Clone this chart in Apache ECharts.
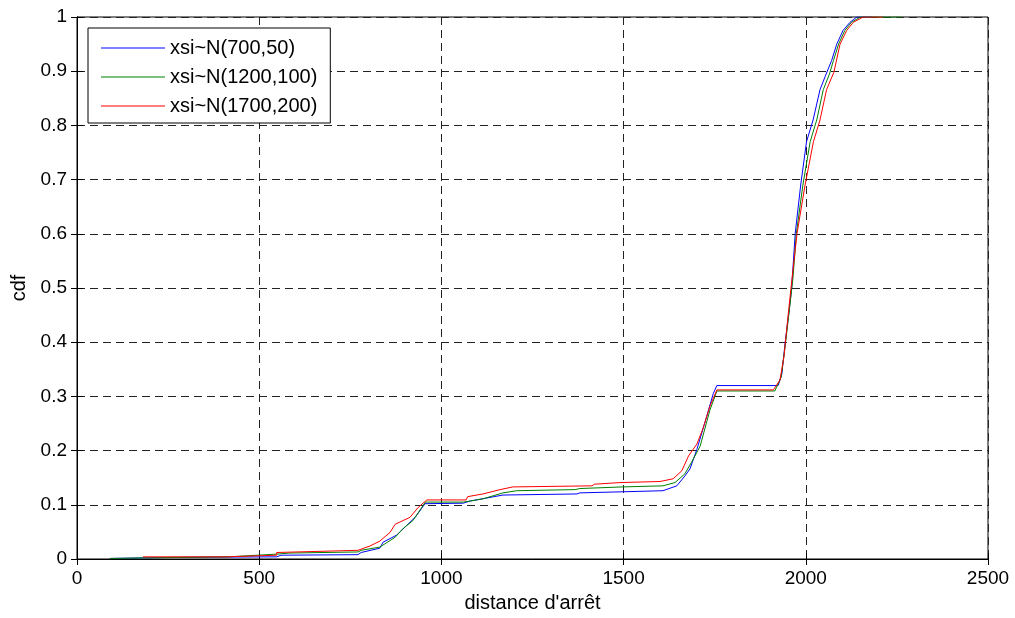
<!DOCTYPE html>
<html>
<head>
<meta charset="utf-8">
<title>cdf distance d'arrêt</title>
<script src="https://cdn.jsdelivr.net/npm/echarts@6/dist/echarts.min.js"></script>
<style>
	html, body { margin: 0; padding: 0; background: #fff; }
	#chart { width: 1015px; height: 618px; }
</style>
</head>
<body>
<div id="chart"></div>
<script>
// series names as in the legend
var seriesNames = ['xsi~N(700,50)', 'xsi~N(1200,100)', 'xsi~N(1700,200)'];
var seriesColors = ['#0000ff', '#008000', '#ff0000'];

var cdfBlue = [
	[90, 0.001], [181, 0.002], [264, 0.003], [548, 0.004], [560, 0.007], [771, 0.008],
	[780, 0.012], [831, 0.02], [840, 0.031], [877, 0.044], [905, 0.062], [928, 0.077],
	[955, 0.102], [960, 0.103], [1060, 0.103], [1079, 0.107], [1120, 0.112], [1169, 0.118],
	[1372, 0.12], [1380, 0.122], [1498, 0.124], [1608, 0.126], [1646, 0.135], [1668, 0.153],
	[1682, 0.166], [1701, 0.202], [1728, 0.263], [1746, 0.305], [1756, 0.32], [1924, 0.32],
	[1934, 0.34], [1943, 0.397], [1952, 0.446], [1961, 0.498], [1971, 0.601], [1986, 0.69],
	[2002, 0.77], [2020, 0.81], [2039, 0.866], [2053, 0.89], [2071, 0.92], [2085, 0.95],
	[2102, 0.975], [2121, 0.99], [2140, 1.0], [2180, 1.0]
];
var cdfGreen = [
	[90, 0.001], [181, 0.002], [415, 0.004], [548, 0.009], [584, 0.011], [771, 0.013],
	[780, 0.016], [831, 0.022], [873, 0.04], [896, 0.057], [922, 0.071], [946, 0.095],
	[956, 0.105], [1060, 0.105], [1080, 0.107], [1114, 0.111], [1169, 0.122], [1207, 0.126],
	[1367, 0.128], [1380, 0.13], [1498, 0.133], [1608, 0.135], [1641, 0.141], [1668, 0.157],
	[1686, 0.178], [1710, 0.208], [1737, 0.275], [1756, 0.31], [1915, 0.31], [1932, 0.335],
	[1942, 0.385], [1955, 0.46], [1965, 0.52], [1974, 0.6], [1992, 0.69], [2012, 0.77],
	[2030, 0.81], [2048, 0.866], [2065, 0.895], [2076, 0.92], [2090, 0.95], [2107, 0.975],
	[2125, 0.99], [2150, 1.0], [2264, 1.0]
];
var cdfRed = [
	[181, 0.004], [411, 0.004], [411, 0.007], [548, 0.007], [548, 0.012], [771, 0.016],
	[804, 0.024], [831, 0.033], [859, 0.049], [873, 0.064], [914, 0.077], [936, 0.095],
	[960, 0.109], [1068, 0.109], [1072, 0.115], [1114, 0.12], [1161, 0.128], [1196, 0.133],
	[1413, 0.135], [1420, 0.138], [1490, 0.141], [1600, 0.143], [1636, 0.148], [1660, 0.163],
	[1678, 0.19], [1701, 0.212], [1718, 0.241], [1737, 0.282], [1756, 0.312], [1911, 0.312],
	[1929, 0.33], [1940, 0.373], [1950, 0.44], [1959, 0.498], [1976, 0.601], [1998, 0.69],
	[2021, 0.77], [2039, 0.81], [2057, 0.866], [2077, 0.898], [2094, 0.95], [2112, 0.975],
	[2130, 0.99], [2157, 1.0], [2212, 1.0]
];

var xName = "distance d'arrêt";
var yName = 'cdf';

var font = 'Arial, "Liberation Sans", sans-serif';
var gridLine = { show: true, lineStyle: { color: '#222', type: [8, 5], width: 1 } };
var tick = { show: true, inside: true, length: 6, lineStyle: { color: '#000' } };

var chart = echarts.init(document.getElementById('chart'));

function mkSeries(i, data) {
	return {
		name: seriesNames[i],
		type: 'line',
		data: data,
		symbol: 'none',
		showSymbol: false,
		color: seriesColors[i],
		lineStyle: { width: 1, color: seriesColors[i] },
		emphasis: { disabled: true },
		z: 3 + i
	};
}

chart.setOption({
	animation: false,
	backgroundColor: '#fff',
	textStyle: { fontFamily: font },
	grid: {
		left: 77, right: 27, top: 17, bottom: 54,
		show: true, borderColor: '#000', borderWidth: 1, backgroundColor: 'transparent'
	},
	legend: {
		show: true,
		left: 88, top: 28,
		orient: 'vertical',
		data: seriesNames,
		backgroundColor: '#fff',
		borderColor: '#000',
		borderWidth: 1,
		padding: [10, 13, 7, 13],
		icon: 'rect',
		itemWidth: 64,
		itemHeight: 1,
		itemGap: 9,
		textStyle: { fontFamily: font, fontSize: 20, color: '#000', lineHeight: 20 },
		selectedMode: false,
		z: 10
	},
	xAxis: [{
		type: 'value', min: 0, max: 2500, interval: 500,
		name: xName, nameLocation: 'middle', nameGap: 34,
		nameTextStyle: { fontFamily: font, fontSize: 20, color: '#000' },
		axisLine: { show: true, lineStyle: { color: '#000' } },
		axisTick: tick,
		axisLabel: {
			fontFamily: font, fontSize: 19, color: '#000', margin: 10,
			formatter: function (v) { return String(v); }
		},
		splitLine: gridLine
	}, {
		type: 'value', min: 0, max: 2500, interval: 500, position: 'top',
		axisLine: { show: true, lineStyle: { color: '#000' } },
		axisTick: tick, axisLabel: { show: false }, splitLine: { show: false }
	}],
	yAxis: [{
		type: 'value', min: 0, max: 1, interval: 0.1,
		name: yName, nameLocation: 'middle', nameGap: 47,
		nameTextStyle: { fontFamily: font, fontSize: 20, color: '#000' },
		axisLine: { show: true, lineStyle: { color: '#000' } },
		axisTick: tick,
		axisLabel: { fontFamily: font, fontSize: 19, color: '#000', margin: 10 },
		splitLine: gridLine
	}, {
		type: 'value', min: 0, max: 1, interval: 0.1, position: 'right',
		axisLine: { show: true, lineStyle: { color: '#000' } },
		axisTick: tick, axisLabel: { show: false }, splitLine: { show: false }
	}],
	series: [
		mkSeries(0, cdfBlue),
		mkSeries(1, cdfGreen),
		mkSeries(2, cdfRed)
	]
});
</script>
</body>
</html>
